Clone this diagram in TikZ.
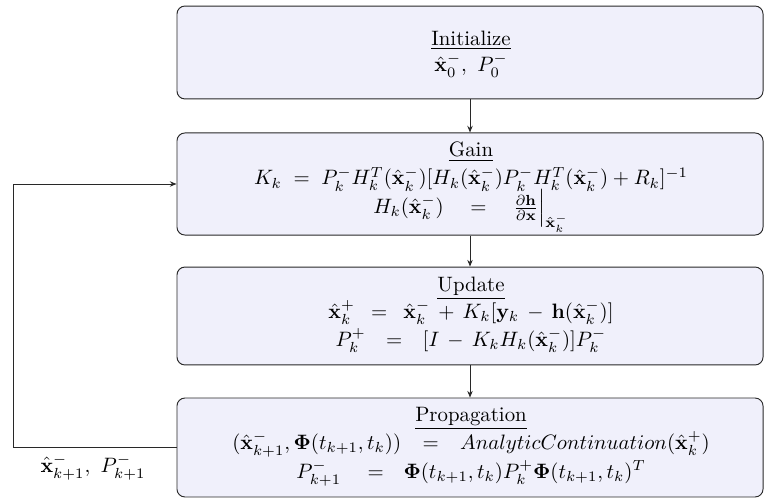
\documentclass[tikz,border=0pt]{standalone}
\usepackage{amsmath}
\usetikzlibrary{arrows.meta}
\definecolor{boxfill}{RGB}{240,240,251}
\definecolor{linecol}{RGB}{40,40,40}
\tikzset{
  stagebox/.style={draw=linecol, fill=boxfill, rounded corners=3.8pt, line width=0.45pt,
    minimum width=281.3pt, inner sep=0pt},
  linetext/.style={anchor=base, inner sep=0pt},
  flow/.style={draw=linecol, line width=0.45pt, -{Stealth[length=3.2pt,width=2.6pt]}},
  loopline/.style={draw=linecol, line width=0.45pt}
}
\begin{document}
\begin{tikzpicture}[x=0.48pt, y=-0.48pt]
\useasboundingbox (0,0) rectangle (765,499);
% frames
\node[stagebox, minimum height=44.6pt] (init) at (470,52.5) {};
\node[stagebox, minimum height=49.0pt] (gain) at (470,184) {};
\node[stagebox, minimum height=47.0pt] (update) at (470,316) {};
\node[stagebox, minimum height=47.5pt] (prop) at (470,447.5) {};
% Initialize
\node[linetext] (initT) at (471,45.5) {\underline{Initialize}};
\node[linetext] (initA) at (471,71.5) {$\hat{\mathbf{x}}_0^-,\ P_0^-$};
% Gain
\node[linetext] (gainT) at (471,156.7) {\underline{Gain}};
\node[linetext] (gainA) at (471,185) {$K_k\;=\;P_k^- H_k^T(\hat{\mathbf{x}}_k^-)[H_k(\hat{\mathbf{x}}_k^-)P_k^- H_k^T(\hat{\mathbf{x}}_k^-) + R_k]^{-1}$};
\node[linetext] (gainB) at (471,213.3) {$H_k(\hat{\mathbf{x}}_k^-)\quad=\quad\frac{\partial \mathbf{h}}{\partial \mathbf{x}}\Big|_{\hat{\mathbf{x}}_k^-}$};
% Update
\node[linetext] (updT) at (471,291.7) {\underline{Update}};
\node[linetext] (updA) at (471,318.3) {$\hat{\mathbf{x}}_k^+\hspace{5pt}=\hspace{5pt}\hat{\mathbf{x}}_k^-\,+\,K_k[\mathbf{y}_k\,-\,\mathbf{h}(\hat{\mathbf{x}}_k^-)]$};
\node[linetext] (updB) at (471,346.7) {$P_k^+\hspace{7pt}=\hspace{7pt}[I\,-\,K_k H_k(\hat{\mathbf{x}}_k^-)]P_k^-$};
% Propagation
\node[linetext] (propT) at (471,421) {\underline{Propagation}};
\node[linetext] (propA) at (471,449.5) {$(\hat{\mathbf{x}}_{k+1}^-, \mathbf{\Phi}(t_{k+1},t_k))\hspace{7.5pt}=\hspace{7.5pt}AnalyticContinuation(\hat{\mathbf{x}}_k^+)$};
\node[linetext] (propB) at (471,478) {$P_{k+1}^-\quad=\ \ \mathbf{\Phi}(t_{k+1},t_k)P_k^+\mathbf{\Phi}(t_{k+1},t_k)^T$};
% loop
\coordinate (lb) at (13,447.5);
\coordinate (lt) at (13,184);
\node[linetext] (looplabel) at (93,472) {$\hat{\mathbf{x}}_{k+1}^-,\ P_{k+1}^-$};
\draw[flow] (init) -- (gain);
\draw[flow] (gain) -- (update);
\draw[flow] (update) -- (prop);
\draw[loopline] (prop.west) -- (lb) -- (lt);
\draw[flow] (lt) -- (gain.west);
\end{tikzpicture}
\end{document}
